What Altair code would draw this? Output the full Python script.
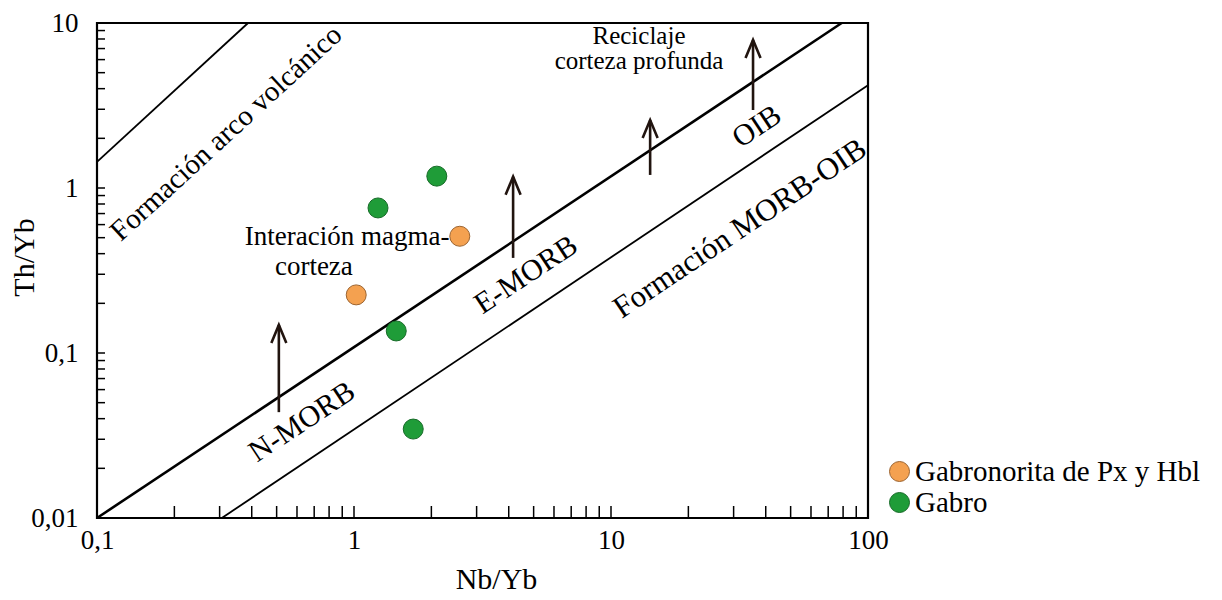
import altair as alt
import pandas as pd

# ---- data ----
series_names = ["Gabronorita de Px y Hbl", "Gabro"]
gabronorita_nb_yb = [1.02, 2.58]
gabronorita_th_yb = [0.225, 0.51]
gabro_nb_yb = [1.24, 2.10, 1.46, 1.70]
gabro_th_yb = [0.757, 1.18, 0.136, 0.0346]

# boundary lines (start/end in data units)
line_x1 = [0.1, 0.1, 0.306]
line_y1 = [1.44, 0.01, 0.01]
line_x2 = [0.387, 79.0, 100.0]
line_y2 = [10.0, 10.0, 4.2]
line_w = [1.8, 2.6, 1.8]

# vertical arrows
arrow_x = [0.51, 4.16, 14.2, 35.7]
arrow_y_from = [0.0438, 0.377, 1.2, 2.97]
arrow_y_to = [0.148, 1.17, 2.58, 7.9]

# tick positions
x_tick_values = [0.2, 0.3, 0.4, 0.5, 0.6, 0.7, 0.8, 0.9, 1, 2, 3, 4, 5, 6, 7, 8, 9,
                 10, 20, 30, 40, 50, 60, 70, 80, 90]
y_tick_values = [0.02, 0.03, 0.04, 0.05, 0.06, 0.07, 0.08, 0.09, 0.1,
                 0.2, 0.3, 0.4, 0.5, 0.6, 0.7, 0.8, 0.9, 1, 2, 3, 4, 5, 6, 7, 8, 9]
x_label_values = [0.1, 1, 10, 100]
y_label_values = [0.01, 0.1, 1, 10]

# annotations
ann_text = ["Formación arco volcánico", "N-MORB", "E-MORB", "OIB", "Formación MORB-OIB",
            "Interación magma-", "corteza", "Reciclaje", "corteza profunda"]
ann_x = [0.318, 0.628, 4.67, 37.0, 31.8, 0.94, 0.698, 12.85, 12.85]
ann_y = [2.15, 0.0382, 0.297, 2.35, 0.565, 0.507, 0.332, 8.34, 5.89]
ann_angle = [317.4, 326.4, 326.4, 326.4, 326.2, 0, 0, 0, 0]
ann_size = [29, 30, 30, 30, 31, 27, 27, 25, 25]

FONT = "'Liberation Serif', 'DejaVu Serif', 'Times New Roman', serif"
xs = alt.Scale(type="log", domain=[0.1, 100], nice=False)
ys = alt.Scale(type="log", domain=[0.01, 10], nice=False)

lines_df = pd.DataFrame({"x": line_x1, "y": line_y1, "x2": line_x2, "y2": line_y2, "w": line_w})
arrows_df = pd.DataFrame({"x": arrow_x, "y": arrow_y_from, "y2": arrow_y_to})
heads_df = pd.DataFrame({"x": arrow_x, "y": arrow_y_to})
pts_df = pd.DataFrame({
    "x": gabronorita_nb_yb + gabro_nb_yb,
    "y": gabronorita_th_yb + gabro_th_yb,
    "serie": [series_names[0]] * len(gabronorita_nb_yb) + [series_names[1]] * len(gabro_nb_yb),
})
ann_df = pd.DataFrame({"x": ann_x, "y": ann_y, "t": ann_text, "a": ann_angle, "s": ann_size})
xt_df = pd.DataFrame({"x": x_tick_values})
yt_df = pd.DataFrame({"y": y_tick_values})

x_axis = alt.Axis(values=x_label_values, labelExpr="replace(format(datum.value, '~g'), '.', ',')",
                  ticks=False, tickSize=0, domain=False, grid=False, title="Nb/Yb",
                  labelFontSize=27, labelPadding=9, labelFont=FONT, labelColor="black",
                  titleFontSize=30, titleFont=FONT, titleFontWeight="normal", titleColor="black",
                  titleX=399, titleY=70, titleBaseline="alphabetic", titleAlign="center",
                  labelFlush=False, labelOverlap=False)
y_axis = alt.Axis(values=y_label_values, labelExpr="replace(format(datum.value, '~g'), '.', ',')",
                  ticks=False, tickSize=0, domain=False, grid=False, title="Th/Yb",
                  labelFontSize=27, labelPadding=19, labelFont=FONT, labelColor="black",
                  titleFontSize=30, titleFont=FONT, titleFontWeight="normal", titleColor="black",
                  titleX=-64, titleY=234, titleBaseline="alphabetic", titleAlign="center", titleAngle=270,
                  labelFlush=False, labelOverlap=False)

X = alt.X("x:Q", scale=xs, axis=x_axis, title="Nb/Yb")
Y = alt.Y("y:Q", scale=ys, axis=y_axis, title="Th/Yb")

lines = alt.Chart(lines_df).mark_rule(color="black").encode(
    x=X, y=Y, x2="x2:Q", y2="y2:Q",
    strokeWidth=alt.StrokeWidth("w:Q", scale=None),
)

xticks = alt.Chart(xt_df).mark_rule(color="black", strokeWidth=1.5).encode(
    x=X, y=alt.value(495), y2=alt.value(483),
)
yticks = alt.Chart(yt_df).mark_rule(color="black", strokeWidth=1.5).encode(
    y=Y, x=alt.value(0), x2=alt.value(8),
)

arrows = alt.Chart(arrows_df).mark_rule(color="#21140f", strokeWidth=2.6).encode(
    x=X, y=Y, y2="y2:Q",
)
heads = alt.Chart(heads_df).mark_point(
    shape="M-1,2.4L0,0L1,2.4", filled=False, size=225, strokeWidth=2.6, color="#21140f", opacity=1
).encode(x=X, y=Y)

legend = alt.Legend(orient="none", legendX=788, legendY=434, title=None,
                    labelFont=FONT, labelFontSize=29, labelColor="black", labelOffset=1,
                    labelLimit=0,
                    symbolSize=400, symbolType="circle", rowPadding=1, padding=0,
                    symbolStrokeWidth=1)
points = alt.Chart(pts_df).mark_point(filled=True, size=400, strokeWidth=1, opacity=1).encode(
    x=X, y=Y,
    fill=alt.Fill("serie:N", scale=alt.Scale(domain=series_names, range=["#f4a150", "#1f9c38"]),
                  legend=legend, sort=series_names),
    stroke=alt.Stroke("serie:N", scale=alt.Scale(domain=series_names, range=["#9c6430", "#176b28"]),
                      legend=legend, sort=series_names),
)

ann = alt.Chart(ann_df).mark_text(font=FONT, color="black", align="center", baseline="middle").encode(
    x=X, y=Y,
    text="t:N",
    angle=alt.Angle("a:Q", scale=None),
    size=alt.Size("s:Q", scale=None),
)

chart = alt.layer(lines, xticks, yticks, arrows, heads, ann, points).properties(
    width=771, height=495,
    autosize=alt.AutoSizeParams(type="none"),
    padding={"left": 89, "top": 15, "right": 346, "bottom": 75},
    background="white",
).configure(
    font=FONT,
    view=alt.ViewConfig(stroke="black", strokeWidth=2.2),
)

chart.save("out.html", embed_options={"renderer": "svg", "actions": False})
